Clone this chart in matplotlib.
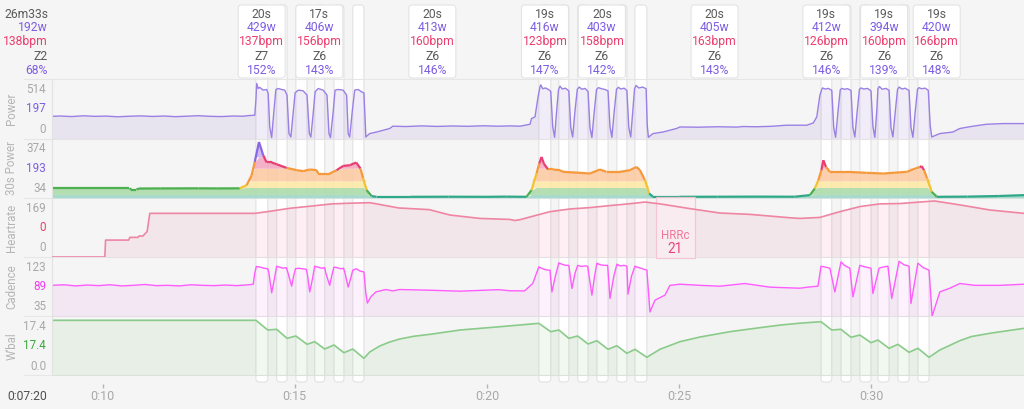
import numpy as np
import matplotlib
matplotlib.use("Agg")
import matplotlib.pyplot as plt
from matplotlib.patches import FancyBboxPatch, Rectangle
from matplotlib.collections import LineCollection
from matplotlib.transforms import blended_transform_factory

plt.rcParams['font.family'] = ['Roboto', 'DejaVu Sans']

# ---------------- data (time in minutes) ----------------
interval_start = [13.99, 14.53, 15.03, 15.52, 16.02, 16.51,
                  21.35, 21.87, 22.36, 22.86, 23.38, 23.85,
                  28.69, 29.21, 29.70, 30.17, 30.69, 31.21]
interval_end = [14.30, 14.80, 15.32, 15.78, 16.28, 16.80,
                21.66, 22.13, 22.63, 23.15, 23.64, 24.16,
                28.97, 29.47, 29.99, 30.46, 30.98, 31.50]

label_time = [14.14, 15.64, 18.58, 21.51, 22.99, 25.92, 28.83, 30.33, 31.70]
label_dur = ['20s', '17s', '20s', '19s', '20s', '20s', '19s', '19s', '19s']
label_watts = [429, 406, 413, 416, 403, 405, 412, 394, 420]
label_hr = [137, 156, 160, 123, 158, 163, 126, 160, 166]
label_zone = ['Z7', 'Z6', 'Z6', 'Z6', 'Z6', 'Z6', 'Z6', 'Z6', 'Z6']
label_pct = [152, 143, 146, 147, 142, 143, 146, 139, 148]

summary = ['26m33s', '192w', '138bpm', 'Z2', '68%']

power = [
    (8.68, 203), (8.9, 206), (9.2, 201), (9.5, 208), (9.8, 203), (10.1, 205), (10.4, 199),
    (10.7, 204), (11.0, 207), (11.3, 202), (11.6, 206), (11.9, 200), (12.2, 204), (12.5, 209),
    (12.8, 203), (13.1, 201), (13.4, 206), (13.65, 204), (13.8, 210), (13.96, 213),
    (13.99, 350), (14.01, 503), (14.05, 457), (14.09, 467), (14.18, 442), (14.27, 448), (14.31, 412),
    (14.35, 106), (14.40, 9), (14.46, 259), (14.51, 448), (14.57, 457), (14.66, 448), (14.74, 442),
    (14.80, 396), (14.85, 46), (14.90, 15), (14.96, 229), (15.01, 417), (15.09, 442), (15.22, 436),
    (15.32, 396), (15.38, 46), (15.42, 15), (15.48, 229), (15.53, 426), (15.61, 457), (15.74, 442),
    (15.84, 396), (15.89, 46), (15.93, 9), (16.00, 243), (16.05, 442), (16.13, 448), (16.26, 442),
    (16.35, 396), (16.39, 46), (16.43, 15), (16.50, 259), (16.56, 442), (16.65, 448), (16.74, 426),
    (16.80, 417), (16.85, 15), (16.95, 46), (17.13, 60), (17.47, 92), (17.55, 113), (17.9, 110),
    (18.3, 116), (18.7, 111), (19.1, 115), (19.5, 112), (19.9, 117), (20.3, 113), (20.6, 116),
    (20.86, 113), (21.12, 131), (21.16, 183), (21.25, 198), (21.33, 381),
    (21.38, 472), (21.40, 490), (21.45, 455), (21.52, 462), (21.60, 448), (21.66, 430), (21.71, 110),
    (21.76, 12), (21.81, 240), (21.86, 445), (21.90, 478), (21.96, 452), (22.04, 460), (22.13, 435),
    (22.18, 100), (22.23, 15), (22.29, 250), (22.35, 450), (22.40, 470), (22.47, 450), (22.55, 458),
    (22.63, 430), (22.68, 100), (22.73, 10), (22.79, 240), (22.85, 448), (22.90, 465), (22.98, 455),
    (23.07, 448), (23.15, 435), (23.20, 110), (23.25, 12), (23.31, 245), (23.37, 450), (23.42, 468),
    (23.48, 452), (23.57, 460), (23.64, 438), (23.69, 100), (23.74, 15), (23.79, 240), (23.84, 455),
    (23.88, 485), (23.95, 462), (24.05, 470), (24.14, 455), (24.17, 120), (24.20, 12),
    (24.32, 46), (24.58, 60), (24.93, 92), (25.02, 106), (25.5, 104), (26.0, 108), (26.5, 105),
    (26.66, 110), (27.0, 108), (27.4, 112), (27.79, 122), (28.32, 122), (28.49, 143), (28.58, 198),
    (28.66, 396), (28.71, 448), (28.73, 462), (28.80, 452), (28.88, 458), (28.97, 440), (29.02, 100),
    (29.07, 12), (29.13, 240), (29.19, 445), (29.23, 458), (29.30, 450), (29.38, 455), (29.47, 440),
    (29.52, 100), (29.57, 15), (29.63, 245), (29.69, 450), (29.73, 462), (29.80, 452), (29.90, 458),
    (29.99, 435), (30.04, 110), (30.09, 12), (30.14, 250), (30.17, 455), (30.21, 475), (30.28, 450),
    (30.38, 458), (30.46, 440), (30.51, 100), (30.56, 15), (30.62, 240), (30.68, 448), (30.72, 470),
    (30.80, 452), (30.88, 460), (30.98, 438), (31.03, 100), (31.08, 12), (31.14, 245), (31.20, 450),
    (31.24, 465), (31.30, 455), (31.40, 460), (31.48, 440), (31.53, 120), (31.57, 15),
    (31.78, 46), (32.12, 60), (32.30, 92), (32.64, 113), (33.0, 131), (33.42, 137), (33.97, 137),
]

power_30s = [
    (8.68, 195), (10.0, 195), (10.70, 195), (10.75, 184), (10.88, 184), (10.95, 194), (11.5, 195),
    (12.5, 196), (13.0, 195), (13.57, 196), (13.75, 228), (13.88, 329), (13.96, 464), (14.07, 666),
    (14.18, 531), (14.27, 458), (14.40, 458), (14.53, 440), (14.79, 403), (15.05, 380), (15.22, 370),
    (15.39, 387), (15.57, 380), (15.61, 346), (15.91, 346), (16.09, 380), (16.26, 423), (16.43, 430),
    (16.60, 458), (16.71, 397), (16.78, 296), (16.87, 178), (17.00, 117), (17.13, 110), (18.0, 110),
    (19.0, 111), (20.0, 110), (20.5, 112), (21.03, 110), (21.16, 178), (21.29, 346), (21.36, 447),
    (21.42, 514), (21.48, 447), (21.59, 387), (21.72, 387), (21.90, 380), (21.98, 363), (22.42, 353),
    (22.68, 346), (22.94, 387), (23.11, 363), (23.46, 363), (23.72, 380), (23.89, 413), (23.98, 380),
    (24.11, 279), (24.22, 144), (24.32, 110), (25.0, 110), (26.0, 111), (27.0, 112), (28.0, 111),
    (28.40, 127), (28.53, 195), (28.62, 279), (28.70, 380), (28.75, 481), (28.82, 413), (28.92, 363),
    (29.36, 363), (29.88, 353), (30.31, 346), (30.92, 363), (31.26, 413), (31.31, 420), (31.37, 380),
    (31.45, 296), (31.57, 161), (31.70, 110), (32.5, 112), (33.3, 118), (33.97, 127),
]
zone_edges = [100, 134, 205, 272, 400, 514, 700]

heartrate = [
    (8.68, 0), (10.06, 0), (10.08, 50), (10.68, 50), (10.71, 58), (10.92, 58), (10.95, 62),
    (11.05, 62), (11.10, 68), (11.16, 75), (11.23, 129), (12.0, 129), (13.0, 129), (13.96, 129),
    (14.35, 135), (14.87, 144), (15.39, 150), (15.97, 157), (16.43, 159), (16.95, 160.5), (17.08, 158),
    (17.7, 145), (18.5, 140), (19.04, 124), (19.82, 114), (20.6, 111), (20.72, 108), (20.85, 110),
    (21.11, 118), (21.64, 134), (22.16, 142), (22.68, 146), (23.2, 152), (23.72, 157.5), (24.11, 162.5),
    (24.5, 157), (25.28, 143), (26.06, 130), (26.84, 126), (27.88, 116), (28.14, 114), (28.66, 117),
    (29.18, 134), (29.70, 149), (30.22, 157), (30.74, 158), (31.26, 162.5), (31.65, 165.5), (32.3, 154),
    (33.08, 139), (33.97, 129),
]
hrrc_start, hrrc_end, hrrc_value = 24.39, 25.41, 21

cadence = [
    (8.68, 89), (9.0, 90), (9.3, 88), (9.6, 89.5), (9.9, 88.5), (10.2, 90), (10.5, 88), (10.8, 89),
    (11.1, 90.5), (11.4, 88.5), (11.7, 89), (12.0, 88), (12.3, 90), (12.6, 89), (12.9, 88.5),
    (13.2, 89.5), (13.5, 88.5), (13.8, 90), (13.92, 91),
    (13.96, 110), (14.0, 122), (14.1, 121), (14.2, 119), (14.30, 118), (14.33, 110), (14.40, 76),
    (14.47, 100), (14.53, 122.5), (14.6, 121), (14.7, 119), (14.78, 120), (14.82, 112), (14.92, 87.5),
    (14.97, 105), (15.02, 118), (15.1, 119), (15.2, 118), (15.30, 117), (15.33, 108), (15.39, 77.5),
    (15.46, 100), (15.52, 122.5), (15.6, 121), (15.7, 119), (15.78, 120), (15.81, 110), (15.91, 89),
    (15.96, 105), (16.02, 121), (16.1, 120), (16.2, 118), (16.27, 119), (16.31, 110), (16.39, 86),
    (16.45, 100), (16.51, 115.5), (16.6, 118), (16.7, 114), (16.80, 112.5), (16.85, 74.7), (16.89, 58),
    (16.98, 68.8), (17.11, 77.5), (17.37, 81.7), (17.55, 79.3), (17.73, 81.7), (18.5, 80.5),
    (19.3, 78.8), (20.3, 81.4), (20.6, 79.5), (20.98, 79.3), (21.19, 92.2),
    (21.35, 121.3), (21.45, 118), (21.55, 116), (21.64, 115.5), (21.69, 77.5), (21.78, 105),
    (21.87, 128.3), (21.95, 126), (22.05, 124), (22.13, 124), (22.21, 83.5), (22.29, 110),
    (22.36, 124), (22.45, 122), (22.55, 123), (22.62, 122.5), (22.73, 71.8), (22.80, 105),
    (22.86, 127.8), (22.95, 125), (23.05, 124), (23.14, 124), (23.20, 66), (23.30, 105),
    (23.38, 126), (23.47, 123), (23.56, 124), (23.64, 122.5), (23.67, 73.5), (23.76, 105),
    (23.85, 122.5), (23.95, 120), (24.05, 118), (24.16, 115.5), (24.24, 42.5), (24.37, 63),
    (24.63, 71.8), (24.76, 89), (25.02, 91), (25.54, 89), (26.06, 87.5), (26.71, 92.2), (27.36, 85.8),
    (28.14, 84), (28.40, 86.3), (28.61, 87.5),
    (28.69, 122.5), (28.80, 121), (28.92, 119), (29.05, 77.5), (29.21, 130), (29.30, 124),
    (29.44, 119), (29.52, 68.8), (29.70, 124), (29.85, 121), (29.99, 119), (30.04, 74.7),
    (30.20, 119), (30.30, 121), (30.43, 122.5), (30.53, 66), (30.72, 131), (30.85, 125),
    (30.98, 122.5), (31.03, 57.2), (31.21, 127.8), (31.35, 120), (31.50, 115.5), (31.58, 35),
    (31.78, 77.5), (32.04, 84), (32.30, 92.2), (32.69, 89), (33.34, 89), (33.97, 91),
]

wbal = [
    (8.68, 17.31), (13.99, 17.31), (14.30, 14.26), (14.53, 14.48), (14.80, 11.65), (15.03, 12.38),
    (15.32, 9.77), (15.52, 10.59), (15.78, 8.29), (16.02, 9.55), (16.28, 7.13), (16.51, 8.29),
    (16.80, 5.37), (16.95, 7.35), (17.21, 9.23), (17.47, 10.49), (17.73, 11.43), (18.1, 12.3),
    (18.52, 12.91), (19.3, 14.26), (20.34, 15.3), (21.35, 16.36),
    (21.66, 13.73), (21.87, 14.26), (22.13, 11.65), (22.36, 12.38), (22.63, 9.86), (22.86, 10.9),
    (23.15, 8.2), (23.38, 9.33), (23.64, 6.94), (23.85, 8.2), (24.16, 5.69), (24.50, 8.2),
    (25.02, 10.59), (25.54, 12.06), (26.32, 13.73), (27.1, 15.0), (27.62, 15.8), (28.14, 16.4),
    (28.69, 16.87),
    (28.97, 14.26), (29.21, 14.48), (29.47, 11.97), (29.70, 12.69), (29.99, 10.27), (30.17, 11.12),
    (30.46, 8.51), (30.69, 9.77), (30.98, 7.26), (31.21, 8.51), (31.50, 5.69), (31.78, 7.98),
    (32.30, 10.9), (32.6, 12.2), (33.08, 13.22), (33.97, 14.79),
]

time_ticks = [10, 15, 20, 25, 30]

# ---------------- style ----------------
BG = '#f5f5f5'
PURPLE = '#7d5de3'
RED = '#ec3d6d'
DARK = '#5a5a5a'
GREY = '#a8a8a8'

W, H = 1024, 409
T_LEFT, T_RIGHT = 7 + 20 / 60, 33.97
PLOT_X0 = 52
PANEL_TOP, PANEL_H = 79.4, 59.2
HEADER_Y = [14, 27.8, 41.8, 56, 70]

fig = plt.figure(figsize=(W / 100, H / 100), dpi=100, facecolor=BG)
bg = fig.add_axes([0, 0, 1, 1])
bg.set_xlim(T_LEFT, T_RIGHT)
bg.set_ylim(H, 0)
bg.axis('off')
ppm = W / (T_RIGHT - T_LEFT)
t_plot0 = T_LEFT + PLOT_X0 / ppm
xfrac = blended_transform_factory(bg.transAxes, bg.transData)


def rbox(x, y, w, h, **kw):
    return FancyBboxPatch((x, y), w, h, boxstyle=f"round,pad=0,rounding_size={3.5 / ppm}",
                          mutation_aspect=ppm, **kw)


# interval columns
for s, e in zip(interval_start, interval_end):
    bg.add_patch(rbox(s, 5, e - s, 377, fc='white', ec='#e2e2e2', lw=0.8, zorder=1))

# header boxes
bw = 47 / ppm
for i, t in enumerate(label_time):
    bg.add_patch(rbox(t - bw / 2, 5, bw, 73, fc='white', ec='#e4e4e4', lw=0.8, zorder=3))
    rows = [(label_dur[i], DARK), (f"{label_watts[i]}w", PURPLE), (f"{label_hr[i]}bpm", RED),
            (label_zone[i], DARK), (f"{label_pct[i]}%", PURPLE)]
    for (txt, c), y in zip(rows, HEADER_Y):
        bg.text(t, y, txt, ha='center', va='center', color=c, fontsize=8.7, zorder=4)

for txt, c, y in zip(summary, [DARK, PURPLE, RED, DARK, PURPLE], HEADER_Y):
    bg.text(48 / W, y, txt, transform=xfrac, ha='right', va='center', color=c, fontsize=8.7)

# panel dividers
for i in range(6):
    bg.axhline(PANEL_TOP + i * PANEL_H, xmin=24 / W, color='#e6e6e6', lw=0.8, zorder=2)

# time axis
bg.vlines(time_ticks, 384, 388, color='#b5b5b5', lw=1)
for t in time_ticks:
    bg.text(t, 396.5, f"0:{t:02d}", ha='center', va='center', color=GREY, fontsize=9)
bg.text(47 / W, 396.5, '0:07:20', transform=xfrac, ha='right', va='center', color='#505050', fontsize=8.7)


def make_panel(i, ylim, name, ticks, mid_color):
    top = PANEL_TOP + i * PANEL_H
    ax = fig.add_axes([PLOT_X0 / W, 1 - (top + PANEL_H) / H, 1 - PLOT_X0 / W, PANEL_H / H])
    ax.set_xlim(t_plot0, T_RIGHT)
    ax.set_ylim(*ylim)
    ax.patch.set_visible(False)
    for k, sp in ax.spines.items():
        sp.set_visible(k == 'left')
    ax.spines['left'].set_color('#e2e2e2')
    ax.set_xticks([])
    ax.set_yticks([])
    ax.annotate(name, (0, 0.5), xycoords='axes fraction', xytext=(-29, 0), textcoords='offset points',
                rotation=90, ha='center', va='center', color='#b5b5b5', fontsize=8.3)
    for val, fy, c in zip(ticks, (0.825, 0.5, 0.157), (GREY, mid_color, GREY)):
        ax.annotate(val, (0, fy), xycoords='axes fraction', xytext=(-4.3, 0), textcoords='offset points',
                    ha='right', va='center', color=c, fontsize=8.4)
    return ax


# Power
ax = make_panel(0, (0, 540), 'Power', ['514', '197', '0'], PURPLE)
t, v = np.array(power).T
ax.fill_between(t, 0, v, color='#7e57c2', alpha=0.1, lw=0)
ax.plot(t, v, color='#9a80e4', lw=1.0)

# 30s Power with zone bands
ax = make_panel(1, (100, 700), '30s Power', ['374', '193', '34'], PURPLE)
t, v = np.array(power_30s).T
zone_fill = ['#9fd8c8', '#addcab', '#fde8a6', '#fccaa4', '#f3a9c1', '#c9b5f2']
zone_line = ['#2fa889', '#4caf50', '#f2c230', '#f5993a', '#e83e72', '#8b67e3']
for lo, hi, c in zip(zone_edges[:-1], zone_edges[1:], zone_fill):
    ax.fill_between(t, lo, np.clip(v, lo, hi), color=c, lw=0, alpha=0.9)
pts = np.column_stack([t, v])
segs = np.stack([pts[:-1], pts[1:]], axis=1)
idx = np.digitize((v[:-1] + v[1:]) / 2, zone_edges[1:-1])
ax.add_collection(LineCollection(segs, colors=[zone_line[k] for k in idx], linewidths=1.6))

# Heartrate
ax = make_panel(2, (0, 175), 'Heartrate', ['169', '0', '0'], RED)
t, v = np.array(heartrate).T
ax.fill_between(t, 0, v, color='#e8386a', alpha=0.08, lw=0)
ax.plot(t, v, color='#ee85a3', lw=1.2, zorder=3)
hr_blend = blended_transform_factory(ax.transData, ax.transAxes)
ax.add_patch(Rectangle((hrrc_start, -0.02), hrrc_end - hrrc_start, 1.04, transform=hr_blend,
                       fc='#fbeef2', ec='#f4c0cf', lw=0.9, alpha=0.85, clip_on=False, zorder=2))
hc = (hrrc_start + hrrc_end) / 2
ax.text(hc, 0.37, 'HRRc', transform=hr_blend, ha='center', va='center', color='#f07598',
        fontsize=8.3, zorder=4)
ax.text(hc, 0.14, str(hrrc_value), transform=hr_blend, ha='center', va='center', color='#e8457a',
        fontsize=9.8, zorder=4)

# Cadence
ax = make_panel(3, (35, 138.6), 'Cadence', ['123', '89', '35'], '#f03cf0')
t, v = np.array(cadence).T
ax.fill_between(t, 35, v, color='#d94fd9', alpha=0.08, lw=0)
ax.plot(t, v, color='#ff5cff', lw=1.0)

# W'bal
ax = make_panel(4, (0, 18.6), "W'bal", ['17.4', '17.4', '0.0'], '#3aa83a')
t, v = np.array(wbal).T
ax.fill_between(t, 0, v, color='#5cb85c', alpha=0.09, lw=0)
ax.plot(t, v, color='#8acb8a', lw=1.2)

fig.savefig('out.png', dpi=100, facecolor=BG)
